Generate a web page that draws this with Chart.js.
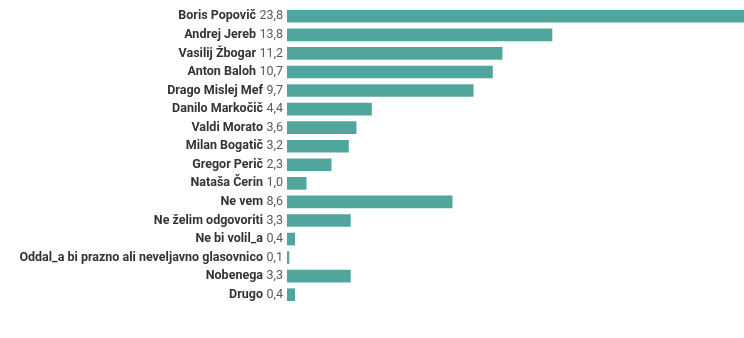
<!DOCTYPE html>
<html>
<head>
<meta charset="utf-8">
<script src="https://cdn.jsdelivr.net/npm/chart.js@4"></script>
<style>
  html, body { margin: 0; padding: 0; background: #fff; }
  #wrap { width: 744px; height: 338px; }
</style>
</head>
<body>
<div id="wrap"><canvas id="chart" width="744" height="338"></canvas></div>
<script>
// kandidati in odgovori
const names = [
  'Boris Popovič', 'Andrej Jereb', 'Vasilij Žbogar', 'Anton Baloh', 'Drago Mislej Mef',
  'Danilo Markočič', 'Valdi Morato', 'Milan Bogatič', 'Gregor Perič', 'Nataša Čerin',
  'Ne vem', 'Ne želim odgovoriti', 'Ne bi volil_a',
  'Oddal_a bi prazno ali neveljavno glasovnico', 'Nobenega', 'Drugo'
];
// odstotki
const shares = [23.8, 13.8, 11.2, 10.7, 9.7, 4.4, 3.6, 3.2, 2.3, 1.0, 8.6, 3.3, 0.4, 0.1, 3.3, 0.4];

const fmt = v => v.toFixed(1).replace('.', ',');

// izpis imena (krepko) in vrednosti (navadno) levo od stolpca
const labelPlugin = {
  id: 'rowLabels',
  afterDraw(chart) {
    const ctx = chart.ctx;
    const y = chart.scales.y;
    const right = chart.chartArea.left - 4;
    ctx.save();
    ctx.textBaseline = 'middle';
    ctx.textAlign = 'right';
    names.forEach((n, i) => {
      const py = y.getPixelForValue(i);
      const val = fmt(shares[i]);
      ctx.font = '400 12.5px "Roboto", sans-serif';
      ctx.fillStyle = '#5a5a5a';
      ctx.fillText(val, right, py);
      const w = ctx.measureText(val).width;
      ctx.font = '700 12.5px "Roboto", sans-serif';
      ctx.fillStyle = '#333333';
      ctx.fillText(n, right - w - 3.5, py);
    });
    ctx.restore();
  }
};

new Chart(document.getElementById('chart'), {
  type: 'bar',
  data: {
    labels: names,
    datasets: [{
      data: shares,
      backgroundColor: '#50a69c',
      borderWidth: 0,
      barThickness: 12
    }]
  },
  options: {
    indexAxis: 'y',
    responsive: false,
    animation: false,
    layout: { padding: { left: 287, right: 0, top: 7, bottom: 34 } },
    plugins: {
      legend: { display: false },
      tooltip: { enabled: false }
    },
    scales: {
      x: { display: false, min: 0, max: 23.8 },
      y: { display: false }
    }
  },
  plugins: [labelPlugin]
});
</script>
</body>
</html>
